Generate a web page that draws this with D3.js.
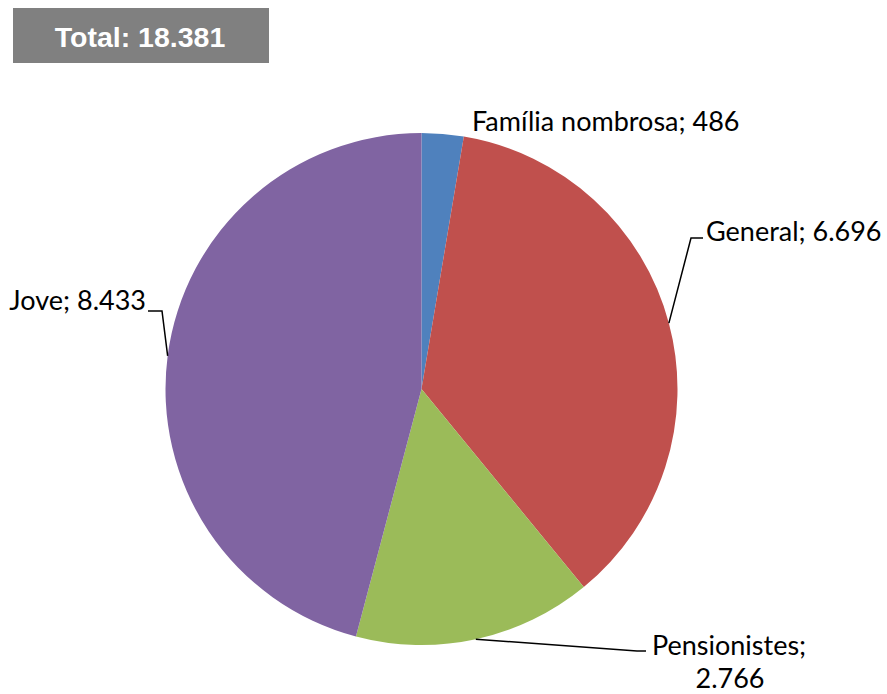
<!DOCTYPE html>
<html>
<head>
<meta charset="utf-8">
<script src="https://cdn.jsdelivr.net/npm/d3@7"></script>
<style>
  body { margin: 0; background: #fff; }
  svg { display: block; }
</style>
</head>
<body>
<svg id="chart"></svg>
<script>
// Data
const categories = ['Família nombrosa', 'General', 'Pensionistes', 'Jove'];
const values = [486, 6696, 2766, 8433];
const colors = ['#4F81BD', '#C0504D', '#9BBB59', '#8064A2'];
const totalLabel = 'Total: 18.381';

// Label layout (elbow point, text anchor, lines of text)
const labelLayout = {
  'Família nombrosa': { elbow: null, tx: 472, ty: 131, anchor: 'start' },
  'General': { elbow: [691, 238], end: [703, 238], tx: 706, ty: 241, anchor: 'start' },
  'Pensionistes': { elbow: [637, 651], end: [646, 651], tx: 652, ty: 655, anchor: 'start', wrap: true },
  'Jove': { elbow: [162, 311], end: [148, 311], tx: 146, ty: 310, anchor: 'end' }
};

const width = 887, height = 694;
const cx = 421.5, cy = 389, r = 256;

const fmt = d3.formatLocale({ decimal: ',', thousands: '.', grouping: [3], currency: ['', '€'] }).format(',d');

const svg = d3.select('#chart').attr('width', width).attr('height', height);

// Total box
svg.append('rect')
  .attr('x', 13).attr('y', 8)
  .attr('width', 256).attr('height', 55)
  .attr('fill', '#808080');
svg.append('text')
  .attr('x', 140).attr('y', 47)
  .attr('text-anchor', 'middle')
  .attr('fill', '#fff')
  .style('font-family', 'Liberation Sans, Arial, sans-serif')
  .style('font-weight', 'bold')
  .style('font-size', '28.5px')
  .text(totalLabel);

const pieData = categories.map((c, i) => ({ key: c, value: values[i], color: colors[i] }));

const pie = d3.pie().sort(null).value(d => d.value);
const arc = d3.arc().innerRadius(0).outerRadius(r);
const arcs = pie(pieData);

const chart = svg.append('g').attr('transform', `translate(${cx},${cy})`);

chart.selectAll('path.slice')
  .data(arcs)
  .join('path')
  .attr('class', 'slice')
  .attr('d', arc)
  .attr('fill', d => d.data.color);

// Leader lines and labels
arcs.forEach(d => {
  const lay = labelLayout[d.data.key];
  const mid = (d.startAngle + d.endAngle) / 2;
  const sx = cx + r * Math.sin(mid);
  const sy = cy - r * Math.cos(mid);
  if (lay.elbow) {
    svg.append('polyline')
      .attr('points', [[sx, sy], lay.elbow, lay.end].map(p => p.join(',')).join(' '))
      .attr('fill', 'none')
      .attr('stroke', '#000')
      .attr('stroke-width', 1.5);
  }
  const style = t => t
    .attr('text-anchor', lay.anchor)
    .attr('fill', '#000')
    .style('font-family', 'Lato, Carlito, Calibri, sans-serif')
    .style('font-size', '27px');
  if (lay.wrap) {
    svg.append('text').call(style)
      .attr('x', lay.tx).attr('y', lay.ty)
      .text(d.data.key + ';');
    svg.append('text').call(style)
      .attr('x', lay.tx + 78).attr('y', lay.ty + 32.5)
      .attr('text-anchor', 'middle')
      .text(fmt(d.data.value));
  } else {
    svg.append('text').call(style)
      .attr('x', lay.tx).attr('y', lay.ty)
      .text(`${d.data.key}; ${fmt(d.data.value)}`);
  }
});
</script>
</body>
</html>
